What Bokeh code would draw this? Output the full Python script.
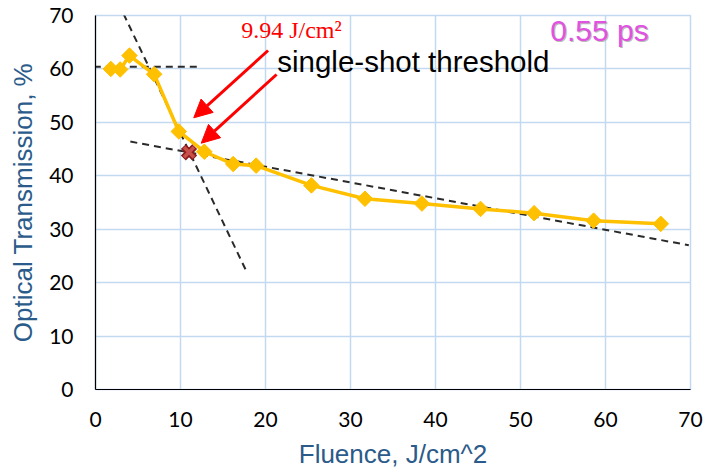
from bokeh.plotting import figure
from bokeh.models import Range1d, Label, Arrow, NormalHead, FixedTicker, ColumnDataSource
from bokeh.embed import file_html
from bokeh.resources import INLINE
import numpy as np

# ---- data ----
fluence = [1.8, 2.9, 4.0, 6.9, 9.8, 12.8, 16.2, 18.9, 25.4, 31.7, 38.4, 45.3, 51.6, 58.6, 66.5]
transmission = [60.0, 59.9, 62.5, 59.0, 48.3, 44.5, 42.2, 41.9, 38.2, 35.7, 34.8, 33.8, 33.0, 31.6, 31.0]

threshold_x = [11.0]
threshold_y = [44.4]

# dashed fit lines (start/end points)
fit_flat_x = [-0.2, 12.1]
fit_flat_y = [60.4, 60.4]
fit_steep_x = [3.3, 17.7]
fit_steep_y = [70.3, 22.3]
fit_shallow_x = [4.1, 69.8]
fit_shallow_y = [46.4, 27.0]

x_ticks = [0, 10, 20, 30, 40, 50, 60, 70]
y_ticks = [0, 10, 20, 30, 40, 50, 60, 70]

title_color = "#2b5b8a"
grid_color = "#c3d9ef"

p = figure(width=705, height=471, output_backend="svg", toolbar_location=None,
           x_range=Range1d(0, 70), y_range=Range1d(0, 70),
           min_border_left=95, min_border_right=15, min_border_top=15, min_border_bottom=82)
p.background_fill_color = "white"
p.border_fill_color = "white"
p.outline_line_color = grid_color
p.outline_line_width = 1.5

for g in (p.xgrid[0], p.ygrid[0]):
    g.grid_line_color = grid_color
    g.grid_line_width = 1.5
p.xgrid.ticker = FixedTicker(ticks=x_ticks)
p.ygrid.ticker = FixedTicker(ticks=y_ticks)

for ax in (p.xaxis[0], p.yaxis[0]):
    ax.axis_line_color = "black"
    ax.axis_line_width = 1.2
    ax.major_tick_line_color = None
    ax.minor_tick_line_color = None
    ax.major_tick_out = 0
    ax.major_tick_in = 0
    ax.major_label_text_font = "Lato"
    ax.major_label_text_font_size = "21px"
    ax.major_label_text_color = "black"
    ax.axis_label_text_font = "Liberation Sans"
    ax.axis_label_text_font_size = "26px"
    ax.axis_label_text_font_style = "normal"
    ax.axis_label_text_color = title_color

p.xaxis.ticker = FixedTicker(ticks=x_ticks)
p.yaxis.ticker = FixedTicker(ticks=y_ticks)
p.xaxis.axis_label = "Fluence, J/cm^2"
p.yaxis.axis_label = "Optical Transmission, %"
p.xaxis.major_label_standoff = 22
p.yaxis.major_label_standoff = 22
p.xaxis.axis_label_standoff = 9
p.yaxis.axis_label_standoff = 8

# dashed fit lines
dash_kw = dict(line_color="#2a2a2a", line_width=2, line_dash="7 5")
p.line(fit_flat_x, fit_flat_y, **dash_kw)
p.line(fit_steep_x, fit_steep_y, **dash_kw)
p.line(fit_shallow_x, fit_shallow_y, **dash_kw)

# data series
src = ColumnDataSource(dict(x=fluence, y=transmission))
p.line("x", "y", source=src, line_color="#ffc000", line_width=3.5)
p.scatter("x", "y", source=src, marker="square", angle=np.pi / 4, size=11,
          fill_color="#ffc000", line_color="#ffc000")

# threshold marker
p.scatter(threshold_x, threshold_y, marker="x", size=16, line_color="#8b1c1c", line_width=7)
p.scatter(threshold_x, threshold_y, marker="x", size=14, line_color="#c8504a", line_width=3.5)

# arrows
for (x0, y0, x1, y1) in [(20.3, 63.45, 11.56, 50.85), (21.3, 58.96, 12.44, 46.1)]:
    p.add_layout(Arrow(end=NormalHead(size=18, fill_color="red", line_color="red"),
                       x_start=x0, y_start=y0, x_end=x1, y_end=y1,
                       line_color="red", line_width=3))

lbl_kw = dict(text_baseline="alphabetic", y_offset=9)
p.add_layout(Label(x=17.14, y=65.64, text="9.94 J/cm\u00b2", text_color="red",
                   text_font="Liberation Serif", text_font_size="24px", **lbl_kw))
p.add_layout(Label(x=21.38, y=59.7, text="single-shot threshold", text_color="black",
                   text_font="Liberation Sans", text_font_size="29.5px", **lbl_kw))
# shadow + label
p.add_layout(Label(x=53.5, y=65.0, x_offset=1, text="0.55 ps", text_color="#bbbbbb",
                   text_font="Liberation Sans", text_font_size="30px",
                   text_baseline="alphabetic", y_offset=11))
p.add_layout(Label(x=53.5, y=65.0, text="0.55 ps", text_color="#e052e0",
                   text_font="Liberation Sans", text_font_size="30px",
                   text_baseline="alphabetic", y_offset=12))

open("out.html", "w").write(file_html(p, INLINE))
